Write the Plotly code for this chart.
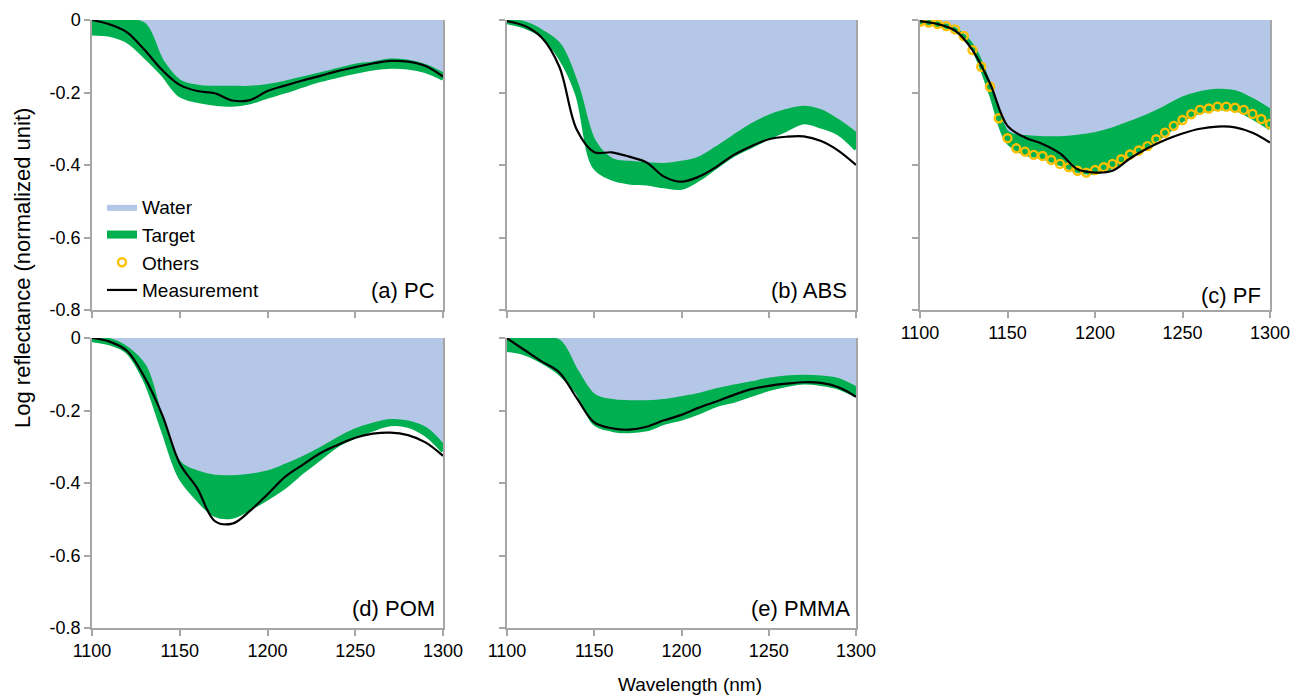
import plotly.graph_objects as go

W, H = 1297, 695

# ---------------- data ----------------
wavelength = [1100, 1110, 1120, 1130, 1140, 1150, 1160, 1170, 1180, 1190, 1200,
              1210, 1220, 1230, 1240, 1250, 1260, 1270, 1280, 1290, 1300]
wavelength_fine = list(range(1100, 1301, 5))

x_ticks = [1100, 1150, 1200, 1250, 1300]
y_ticks = [0, -0.2, -0.4, -0.6, -0.8]
y_tick_text = ["0", "-0.2", "-0.4", "-0.6", "-0.8"]

# (a) PC
pc_water = [0.000, 0.000, 0.000, -0.014, -0.115, -0.170, -0.184, -0.187, -0.187, -0.187, -0.182,
            -0.173, -0.161, -0.150, -0.138, -0.126, -0.120, -0.112, -0.115, -0.127, -0.150]
pc_target = [-0.037, -0.041, -0.058, -0.100, -0.149, -0.207, -0.223, -0.231, -0.234, -0.227, -0.211,
             -0.197, -0.181, -0.166, -0.154, -0.143, -0.134, -0.129, -0.131, -0.141, -0.162]
pc_meas = [0.000, -0.012, -0.034, -0.083, -0.138, -0.179, -0.196, -0.202, -0.222, -0.221, -0.196,
           -0.181, -0.167, -0.154, -0.141, -0.130, -0.120, -0.113, -0.115, -0.127, -0.156]

# (b) ABS
abs_water = [-0.003, -0.009, -0.032, -0.069, -0.179, -0.336, -0.386, -0.394, -0.398, -0.400, -0.394,
             -0.382, -0.354, -0.322, -0.291, -0.267, -0.251, -0.242, -0.252, -0.280, -0.315]
abs_target = [-0.006, -0.018, -0.043, -0.101, -0.202, -0.405, -0.437, -0.448, -0.451, -0.459, -0.463,
              -0.439, -0.405, -0.372, -0.348, -0.324, -0.303, -0.282, -0.294, -0.313, -0.356]
abs_meas = [-0.003, -0.016, -0.049, -0.129, -0.303, -0.365, -0.365, -0.377, -0.393, -0.432, -0.446,
            -0.432, -0.405, -0.372, -0.348, -0.329, -0.322, -0.321, -0.334, -0.361, -0.400]

# (c) PF
pf_water = [0.000, -0.009, -0.026, -0.072, -0.184, -0.311, -0.323, -0.326, -0.326, -0.322, -0.315,
            -0.302, -0.284, -0.265, -0.242, -0.217, -0.202, -0.195, -0.199, -0.221, -0.250]
pf_target = [-0.007, -0.014, -0.028, -0.078, -0.198, -0.336, -0.368, -0.379, -0.397, -0.417, -0.421,
             -0.405, -0.377, -0.345, -0.314, -0.276, -0.253, -0.244, -0.246, -0.269, -0.299]
pf_meas = [-0.003, -0.011, -0.029, -0.083, -0.175, -0.292, -0.324, -0.342, -0.368, -0.412, -0.421,
           -0.416, -0.382, -0.354, -0.331, -0.313, -0.300, -0.294, -0.296, -0.311, -0.338]
pf_others = [-0.005, -0.007, -0.011, -0.017, -0.026, -0.044, -0.083, -0.129, -0.184, -0.271, -0.326,
             -0.354, -0.363, -0.372, -0.375, -0.386, -0.397, -0.406, -0.416, -0.421, -0.414,
             -0.406, -0.397, -0.384, -0.371, -0.360, -0.348, -0.329, -0.311, -0.292, -0.276,
             -0.260, -0.248, -0.244, -0.239, -0.239, -0.242, -0.248, -0.259, -0.273, -0.287]

# (d) POM
pom_water = [-0.001, -0.006, -0.029, -0.079, -0.231, -0.346, -0.371, -0.383, -0.384, -0.380, -0.371,
             -0.353, -0.332, -0.307, -0.279, -0.255, -0.239, -0.229, -0.233, -0.251, -0.298]
pom_target = [-0.006, -0.015, -0.038, -0.115, -0.249, -0.383, -0.444, -0.488, -0.493, -0.470, -0.442,
              -0.410, -0.369, -0.332, -0.295, -0.272, -0.252, -0.238, -0.242, -0.266, -0.312]
pom_meas = [0.000, -0.010, -0.036, -0.109, -0.212, -0.346, -0.415, -0.505, -0.512, -0.477, -0.431,
            -0.383, -0.350, -0.318, -0.295, -0.275, -0.264, -0.261, -0.268, -0.288, -0.325]

# (e) PMMA
pmma_water = [0.000, 0.000, -0.001, -0.010, -0.093, -0.160, -0.174, -0.177, -0.177, -0.174, -0.166,
              -0.157, -0.144, -0.134, -0.125, -0.115, -0.109, -0.107, -0.109, -0.116, -0.139]
pmma_target = [-0.033, -0.042, -0.065, -0.097, -0.148, -0.235, -0.253, -0.257, -0.252, -0.234, -0.222,
               -0.205, -0.185, -0.173, -0.157, -0.141, -0.130, -0.123, -0.127, -0.137, -0.159]
pmma_meas = [-0.001, -0.033, -0.065, -0.095, -0.166, -0.233, -0.249, -0.253, -0.245, -0.227, -0.212,
             -0.192, -0.175, -0.157, -0.141, -0.132, -0.126, -0.122, -0.124, -0.136, -0.162]

panel_labels = ["(a) PC", "(b) ABS", "(c) PF", "(d) POM", "(e) PMMA"]

# ---------------- styling ----------------
WATER = "#b4c7e7"
GREEN = "#00b050"
YELLOW = "#ffc000"
AXIS = "#a6a6a6"
FONT = "Liberation Sans, Arial, sans-serif"


def px_x(p):
    return p / W


def px_y(p):
    return 1 - p / H


# panel boxes in pixels: (left, right, top, bottom)
boxes = [(92, 443, 20, 310), (507, 856, 20, 310), (920, 1270, 20, 310),
         (92, 443, 338, 628), (507, 856, 338, 628)]

panels = [
    (pc_water, pc_target, pc_meas, None),
    (abs_water, abs_target, abs_meas, None),
    (pf_water, pf_target, pf_meas, pf_others),
    (pom_water, pom_target, pom_meas, None),
    (pmma_water, pmma_target, pmma_meas, None),
]

fig = go.Figure()

for i, (water, target, meas, others) in enumerate(panels):
    n = i + 1
    xa = "x" if n == 1 else f"x{n}"
    ya = "y" if n == 1 else f"y{n}"
    first = (i == 0)
    fig.add_trace(go.Scatter(
        x=wavelength, y=water, mode="lines", fill="tozeroy", fillcolor=WATER,
        line=dict(width=0, color=WATER, shape="spline"), name="Water",
        legendrank=1, showlegend=first, xaxis=xa, yaxis=ya, hoverinfo="skip"))
    fig.add_trace(go.Scatter(
        x=wavelength, y=water, mode="lines",
        line=dict(width=4, color=GREEN, shape="spline"), name="Target",
        showlegend=False, xaxis=xa, yaxis=ya, hoverinfo="skip"))
    fig.add_trace(go.Scatter(
        x=wavelength, y=target, mode="lines", fill="tonexty", fillcolor=GREEN,
        line=dict(width=4, color=GREEN, shape="spline"), name="Target",
        legendrank=2, showlegend=first, xaxis=xa, yaxis=ya))
    if others is not None:
        fig.add_trace(go.Scatter(
            x=wavelength_fine, y=others, mode="markers", name="Others",
            marker=dict(symbol="circle-open", size=8, color=YELLOW, line=dict(width=2.4, color=YELLOW)),
            legendrank=3, showlegend=True, xaxis=xa, yaxis=ya))
    fig.add_trace(go.Scatter(
        x=wavelength, y=meas, mode="lines", name="Measurement",
        line=dict(width=2.2, color="black", shape="spline"),
        legendrank=4, showlegend=first, xaxis=xa, yaxis=ya))

layout = {}
for i, (l, r, t, b) in enumerate(boxes):
    n = i + 1
    xkey = "xaxis" if n == 1 else f"xaxis{n}"
    ykey = "yaxis" if n == 1 else f"yaxis{n}"
    ya = "y" if n == 1 else f"y{n}"
    xa = "x" if n == 1 else f"x{n}"
    layout[xkey] = dict(
        domain=[px_x(l), px_x(r)], anchor=ya, range=[1100, 1300],
        tickvals=x_ticks, showticklabels=(n in (3, 4, 5)), automargin=False,
        showgrid=False, zeroline=False, showline=True, linecolor=AXIS, linewidth=1.5,
        ticks="outside", ticklen=6, tickcolor=AXIS, tickwidth=1.5,
        tickfont=dict(size=18, color="black", family=FONT), layer="below traces")
    layout[ykey] = dict(
        domain=[px_y(b), px_y(t)], anchor=xa, range=[-0.8, 0],
        tickvals=y_ticks, ticktext=y_tick_text, showticklabels=(n in (1, 4)), automargin=False,
        showgrid=False, zeroline=False, showline=True, linecolor=AXIS, linewidth=1.5,
        mirror=True, ticks="outside", ticklen=6, tickcolor=AXIS, tickwidth=1.5,
        tickfont=dict(size=18, color="black", family=FONT), layer="below traces")

annotations = []
label_pos = [(437, 290), (849, 290), (1263, 295), (437, 608), (852, 608)]
for txt, (x, y) in zip(panel_labels, label_pos):
    annotations.append(dict(text=txt, x=px_x(x), y=px_y(y), xref="paper", yref="paper",
                            xanchor="right", yanchor="middle", showarrow=False,
                            font=dict(size=22, color="black", family=FONT)))
annotations.append(dict(text="Wavelength (nm)", x=px_x(690), y=px_y(684), xref="paper", yref="paper",
                        xanchor="center", yanchor="middle", showarrow=False,
                        font=dict(size=19, color="black", family=FONT)))
annotations.append(dict(text="Log reflectance (normalized unit)", x=px_x(22), y=px_y(268),
                        xref="paper", yref="paper", xanchor="center", yanchor="middle",
                        showarrow=False, textangle=-90,
                        font=dict(size=22, color="black", family=FONT)))

fig.update_layout(
    width=W, height=H, margin=dict(l=0, r=0, t=0, b=0, pad=0, autoexpand=False),
    paper_bgcolor="white", plot_bgcolor="white",
    font=dict(family=FONT, color="black"),
    showlegend=True,
    legend=dict(x=px_x(102), y=px_y(188), xanchor="left", yanchor="top", traceorder="normal",
                bgcolor="rgba(0,0,0,0)", font=dict(size=19, color="black", family=FONT),
                tracegroupgap=0, itemwidth=30),
    annotations=annotations,
    **layout,
)

fig.write_html("out.html", config={"displayModeBar": False},
               post_script="document.body.style.margin='0';document.body.style.overflow='hidden';")
